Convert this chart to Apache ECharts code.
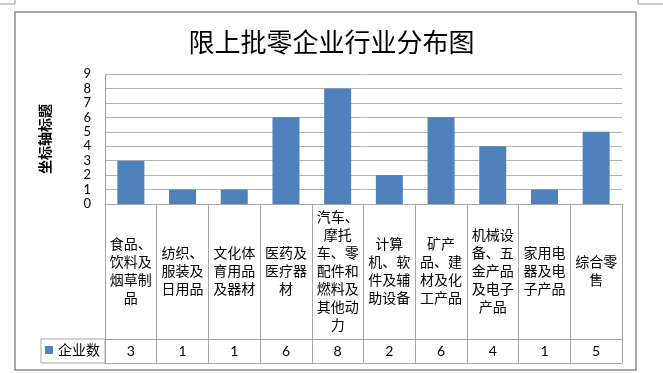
<!DOCTYPE html>
<html>
<head>
<meta charset="utf-8">
<title>限上批零企业行业分布图</title>
<script src="https://cdn.jsdelivr.net/npm/echarts@6/dist/echarts.min.js"></script>
<style>
  html, body { margin: 0; padding: 0; background: #fff; }
  #chart { width: 663px; height: 373px; }
</style>
</head>
<body>
<div id="chart"></div>
<script>
// 行业（按图中折行）
var categories = [
  '食品、\n饮料及\n烟草制\n品',
  '纺织、\n服装及\n日用品',
  '文化体\n育用品\n及器材',
  '医药及\n医疗器\n材',
  '汽车、\n摩托\n车、零\n配件和\n燃料及\n其他动\n力',
  '计算\n机、软\n件及辅\n助设备',
  '矿产\n品、建\n材及化\n工产品',
  '机械设\n备、五\n金产品\n及电子\n产品',
  '家用电\n器及电\n子产品',
  '综合零\n售'
];
var counts = [3, 1, 1, 6, 8, 2, 6, 4, 1, 5];
var yTicks = [0, 9, 1]; // min, max, interval

var cjk = '"Noto Sans CJK SC", sans-serif';
var num = 'Lato, "Liberation Sans", sans-serif';
var tableLine = '#a6a6a6';

var chart = echarts.init(document.getElementById('chart'));
chart.setOption({
  animation: false,
  title: {
    text: '限上批零企业行业分布图',
    left: 'center',
    top: 24,
    textStyle: { fontFamily: cjk, fontSize: 26, fontWeight: 'normal', color: '#000' }
  },
  legend: {
    data: ['企业数'],
    left: 45,
    top: 343,
    padding: 0,
    icon: 'rect',
    itemWidth: 8,
    itemHeight: 8,
    textStyle: { fontFamily: cjk, fontSize: 14, color: '#000' }
  },
  grid: { left: 105, right: 41, top: 74, bottom: 169, containLabel: false },
  xAxis: [
    {
      type: 'category',
      data: categories,
      axisLine: { lineStyle: { color: tableLine } },
      axisTick: { show: true, length: 159, lineStyle: { color: tableLine } },
      axisLabel: {
        interval: 0, margin: 67, verticalAlign: 'middle', align: 'center',
        lineHeight: 18, fontSize: 14, color: '#000', fontFamily: cjk
      }
    },
    {
      type: 'category',
      position: 'bottom',
      offset: 135,
      data: counts.map(String),
      axisLine: { lineStyle: { color: tableLine } },
      axisTick: { show: false },
      axisLabel: { interval: 0, margin: 12, verticalAlign: 'middle', fontSize: 14, color: '#000', fontFamily: num }
    },
    {
      type: 'category',
      position: 'bottom',
      offset: 159,
      data: categories,
      axisLine: { lineStyle: { color: tableLine } },
      axisTick: { show: false },
      axisLabel: { show: false }
    }
  ],
  yAxis: {
    type: 'value',
    min: yTicks[0],
    max: yTicks[1],
    interval: yTicks[2],
    name: '坐标轴标题',
    nameLocation: 'middle',
    nameRotate: 90,
    nameGap: 53,
    nameTextStyle: { fontFamily: cjk, fontSize: 14, fontWeight: 'bold', color: '#000' },
    axisLine: { show: true, lineStyle: { color: tableLine } },
    axisTick: { show: false },
    axisLabel: { margin: 14, fontSize: 13, color: '#000', fontFamily: num },
    splitLine: { lineStyle: { color: '#b4b4b4' } }
  },
  series: [{
    name: '企业数',
    type: 'bar',
    data: counts,
    barWidth: 27,
    itemStyle: { color: '#4F81BD' }
  }],
  graphic: [
    { type: 'rect', shape: { x: 15, y: 12, width: 621, height: 358 }, style: { fill: 'none', stroke: '#8c8c8c', lineWidth: 1.5 }, silent: true },
    { type: 'rect', shape: { x: 41, y: 339, width: 64, height: 24 }, style: { fill: 'none', stroke: tableLine, lineWidth: 1 }, silent: true },
    { type: 'polyline', shape: { points: [[0, 4], [15, 4], [15, 0]] }, style: { fill: 'none', stroke: '#999', lineWidth: 1 }, silent: true },
    { type: 'polyline', shape: { points: [[663, 4], [638, 4], [638, 0]] }, style: { fill: 'none', stroke: '#999', lineWidth: 1 }, silent: true }
  ]
});
</script>
</body>
</html>
